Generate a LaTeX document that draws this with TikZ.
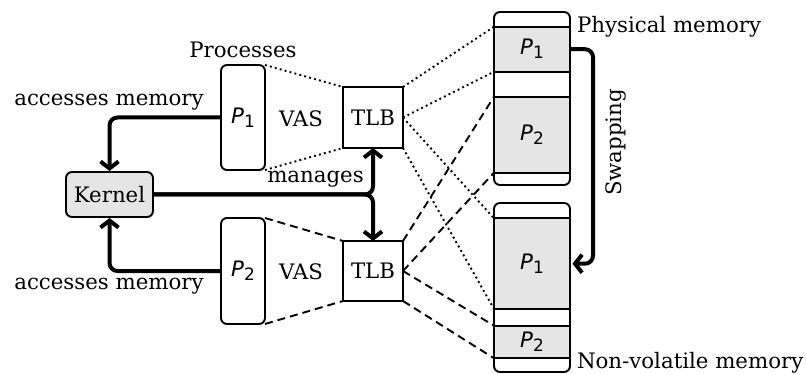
\documentclass[tikz,border=0pt]{standalone}
\usepackage{fontspec}
\setmainfont{DejaVu Serif}
\newfontfamily\dvsans{DejaVu Sans}
\usetikzlibrary{arrows.meta}
\newcommand{\Pn}[1]{{\dvsans\itshape P}\raisebox{-4pt}{\dvsans\fontsize{17}{17}\selectfont #1}}
\begin{document}
\begin{tikzpicture}[x=1pt,y=-1pt,font=\fontsize{21.3}{25}\selectfont,
  box/.style={draw,line width=1.9pt,inner sep=0pt,outer sep=0pt},
  rbox/.style={box,rounded corners=6pt},
  membox/.style={box,fill=gray!20,minimum width=76pt},
  lbl/.style={inner sep=0pt,outer sep=0pt},
  dotline/.style={line width=1.9pt,dash pattern=on 1.9pt off 3.2pt},
  dashline/.style={line width=1.9pt,dash pattern=on 8pt off 5pt},
  bigarrow/.style={line width=4pt,rounded corners=8pt,line join=round,-{Straight Barb[length=7pt,width=18pt]}}]
\useasboundingbox (0,0) rectangle (806,374);
% processes and TLBs
\node[rbox,minimum width=44pt,minimum height=105pt] (p1) at (243,117.5) {\Pn{1}};
\node[rbox,minimum width=44pt,minimum height=106pt] (p2) at (243,271) {\Pn{2}};
\node[box,minimum width=60pt,minimum height=61pt] (t1) at (373,117.5) {TLB};
\node[box,minimum width=60pt,minimum height=60pt] (t2) at (373,271) {TLB};
\node[rbox,fill=gray!20,minimum width=87pt,minimum height=45pt] (k) at (109.5,194.5) {Kernel};
\node[lbl] (v1) at (301,119) {VAS};
\node[lbl] (v2) at (301,272) {VAS};
% labels
\node[lbl,anchor=base] (am1) at (109,106) {accesses memory};
\node[lbl,anchor=base] (am2) at (109,289) {accesses memory};
\node[lbl,anchor=base] (proc) at (243,57.5) {Processes};
\node[lbl,anchor=base] (mng) at (315.5,183) {manages};
\node[lbl,anchor=base west] (phys) at (577,33) {Physical memory};
\node[lbl,anchor=base west] (nvm) at (577,368) {Non-volatile memory};
\node[lbl,anchor=base,rotate=90] (swp) at (621.5,142.5) {Swapping};
% memories
\node[rbox,minimum width=76pt,minimum height=173pt] (pm) at (532,98.5) {};
\node[membox,minimum height=45pt] (pm1) at (532,49.2) {\Pn{1}};
\node[membox,minimum height=76pt] (pm2) at (532,134.7) {\Pn{2}};
\node[rbox,minimum width=76pt,minimum height=169pt] (nv) at (532,287.5) {};
\node[membox,minimum height=90.7pt] (nv1) at (532,263.7) {\Pn{1}};
\node[membox,minimum height=32.6pt] (nv2) at (532,342) {\Pn{2}};
% mapping lines
\draw[dotline] (p1.north east) -- (t1.north west);
\draw[dotline] (p1.south east) -- (t1.south west);
\draw[dashline] (p2.north east) -- (t2.north west);
\draw[dashline] (p2.south east) -- (t2.south west);
\draw[dotline] (t1.north east) -- (pm1.north west);
\draw[dotline] (t1.east) -- (pm1.south west);
\draw[dotline] (t1.east) -- (nv1.north west);
\draw[dotline] (t1.south east) -- (nv1.south west);
\draw[dashline] (t2.north east) -- (pm2.north west);
\draw[dashline] (t2.east) -- (pm2.south west);
\draw[dashline] (t2.east) -- (nv2.north west);
\draw[dashline] (t2.south east) -- (nv2.south west);
% arrows
\draw[bigarrow,shorten >=1pt] (p1.west) -| (k.north);
\draw[bigarrow,shorten >=1pt] (p2.west) -| (k.south);
\draw[bigarrow] (k.east) -| (t1.south);
\draw[bigarrow] (k.east) -| (t2.north);
\draw[bigarrow,shorten >=2.5pt] (pm1.east) -- ++(23,0) |- (nv1.east);
\end{tikzpicture}
\end{document}
